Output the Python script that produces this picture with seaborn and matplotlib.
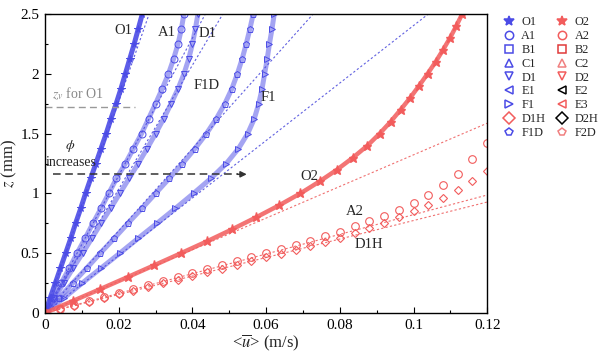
import numpy as np
import pandas as pd
import seaborn as sns
import matplotlib.pyplot as plt
from matplotlib.lines import Line2D
from matplotlib.ticker import MultipleLocator

# blue series, sampled at the same heights z (mm)
z_blue = [0, 0.125, 0.25, 0.375, 0.5, 0.625, 0.75, 0.875, 1.0, 1.125, 1.25,
          1.375, 1.5, 1.625, 1.75, 1.875, 2.0, 2.125, 2.25, 2.375, 2.5]
u_O1 = [0, .0014, .0028, .0042, .0056, .0070, .0083, .0097, .0110, .0124, .0138,
        .0152, .0166, .0179, .0193, .0206, .0218, .0230, .0242, .0253, .0264]
u_A1 = [0, .0022, .0044, .0066, .0087, .0109, .0130, .0152, .0173, .0194, .0218,
        .0240, .0262, .0281, .0300, .0318, .0335, .0349, .0361, .0370, .0377]
u_D1 = [0, .0025, .0051, .0076, .0102, .0127, .0152, .0178, .0203, .0228, .0253,
        .0277, .0300, .0322, .0342, .0361, .0377, .0390, .0400, .0408, .0415]
u_F1D = [0, .0038, .0075, .0113, .0150, .0188, .0225, .0263, .0300, .0337, .0373,
         .0407, .0438, .0465, .0488, .0507, .0522, .0535, .0546, .0556, .0565]
u_F1 = [0, .0051, .0101, .0152, .0203, .0253, .0304, .0354, .0403, .0450, .0492,
        .0525, .0550, .0568, .0580, .0589, .0596, .0603, .0609, .0616, .0622]

# red series
z_O2 = [0, 0.1, 0.2, 0.3, 0.4, 0.5, 0.6, 0.7, 0.8, 0.9, 1.0, 1.1, 1.2, 1.3,
        1.4, 1.5, 1.6, 1.7, 1.8, 1.9, 2.0, 2.1, 2.2, 2.3, 2.4, 2.5]
u_O2 = [0, .0075, .0150, .0224, .0297, .0369, .0440, .0508, .0573, .0635, .0693,
        .0745, .0793, .0836, .0875, .0908, .0938, .0965, .0991, .1015, .1038,
        .1060, .1080, .1099, .1116, .1132]
u_red = [0, .004, .008, .012, .016, .020, .024, .028, .032, .036, .040, .044,
         .048, .052, .056, .060, .064, .068, .072, .076, .080, .084, .088, .092,
         .096, .100, .104, .108, .112, .116, .120]
z_A2 = [0, .033, .067, .100, .133, .167, .200, .233, .267, .300, .333, .367,
        .400, .433, .467, .500, .533, .567, .602, .640, .680, .725, .770, .815,
        .865, .920, .990, 1.07, 1.16, 1.29, 1.42]
z_D1H = [0, .031, .062, .093, .124, .155, .186, .217, .248, .279, .310, .341,
         .372, .403, .434, .465, .496, .527, .560, .594, .630, .668, .710, .752,
         .800, .852, .905, .965, 1.03, 1.10, 1.19]

# slopes du/dz of the dashed tangent lines
tangent_blue = [0.0113, 0.0174, 0.0193, 0.0291, 0.0416]
tangent_red = [0.0756, 0.1216, 0.1293]

legend_labels = ["O1", "A1", "B1", "C1", "D1", "E1", "F1", "D1H", "F1D",
                 "O2", "A2", "B2", "C2", "D2", "E2", "E3", "D2H", "F2D"]
legend_markers = ["*", "o", "s", "^", "v", "<", ">", "D", "p",
                  "*", "o", "s", "^", "v", "<", "<", "D", "p"]
BLUE = "#4b4be6"
RED = "#f25c5c"
legend_colors = [BLUE, BLUE, BLUE, BLUE, BLUE, BLUE, BLUE, RED, BLUE,
                 RED, RED, "#e03a3a", "#f08080", RED, "black", RED, "black", "#f08080"]

sns.set_theme(style="ticks")
plt.rcParams['font.family'] = ['Liberation Serif', 'DejaVu Serif']
plt.rcParams['mathtext.fontset'] = 'stix'

fig = plt.figure(figsize=(6, 3.58), dpi=100)
ax = fig.add_axes([0.075, 0.1257, 0.737, 0.835])

# tangent lines first (behind the data)
for s in tangent_blue:
    ax.plot([0, 2.5 * s], [0, 2.5], color="#6060e0", lw=0.8, dashes=(2, 2))
for s in tangent_red:
    ax.plot([0, 0.12], [0, 0.12 / s], color="#f07070", lw=0.8, dashes=(2, 2))

blue_series = [(u_O1, "*", True), (u_A1, "o", False), (u_D1, "v", False),
               (u_F1D, "p", False), (u_F1, ">", False)]
for u, m, filled in blue_series:
    sns.lineplot(x=u, y=z_blue, sort=False, estimator=None, ax=ax,
                 color=BLUE, lw=3.6, alpha=0.5 if not filled else 0.9)
    ax.plot(u, z_blue, ls="none", marker=m, ms=5.5 if m == "*" else 5,
            color=BLUE, mfc=BLUE if filled else "none", mew=0.7)

sns.lineplot(x=u_O2, y=z_O2, sort=False, estimator=None, ax=ax,
             color=RED, lw=3.2, alpha=0.85)
ax.plot(u_O2, z_O2, ls="none", marker="*", ms=6.5, color=RED)
ax.plot(u_red, z_A2, ls="none", marker="o", ms=5.5, color=RED, mfc="none", mew=0.8)
ax.plot(u_red, z_D1H, ls="none", marker="D", ms=4.5, color=RED, mfc="none", mew=0.8)

# z_v for O1 and the "phi increases" arrow
ax.plot([0, 0.0244], [1.72, 1.72], color="#999999", lw=1, dashes=(5, 3))
ax.text(0.009, 1.80, r"$z_v$ for O1", color="#888888", fontsize=10, ha="center")
ax.plot([0.0022, 0.0525], [1.16, 1.16], color="#333333", lw=1.1, dashes=(5, 3))
ax.annotate("", xy=(0.0555, 1.16), xytext=(0.0515, 1.16),
            arrowprops=dict(arrowstyle="-|>", color="#333333", lw=1.1,
                            mutation_scale=9))
ax.text(0.0068, 1.37, r"$\phi$", fontsize=10, ha="center")
ax.text(0.0072, 1.23, "increases", fontsize=10, ha="center")

names = [("O1", 0.0212, 2.36), ("A1", 0.0331, 2.35), ("D1", 0.0442, 2.34),
         ("F1D", 0.0440, 1.90), ("F1", 0.0605, 1.80), ("O2", 0.0717, 1.14),
         ("A2", 0.0842, 0.85), ("D1H", 0.0880, 0.575)]
for t, x, y in names:
    ax.text(x, y, t, fontsize=10.5, ha="center", va="center")

ax.set_xlim(0, 0.12)
ax.set_ylim(0, 2.5)
ax.set_xticks([0, 0.02, 0.04, 0.06, 0.08, 0.1, 0.12])
ax.set_xticklabels(["0", "0.02", "0.04", "0.06", "0.08", "0.1", "0.12"])
ax.set_yticks([0, 0.5, 1, 1.5, 2, 2.5])
ax.set_yticklabels(["0", "0.5", "1", "1.5", "2", "2.5"])
ax.xaxis.set_minor_locator(MultipleLocator(0.01))
ax.yaxis.set_minor_locator(MultipleLocator(0.25))
ax.tick_params(which="both", direction="in", top=False, right=False,
               labelsize=11, colors="black", width=0.8)
ax.tick_params(which="major", length=4, pad=4)
ax.tick_params(which="minor", length=2)
for sp in ax.spines.values():
    sp.set_color("black")
    sp.set_linewidth(1)
ax.set_xlabel(r"<$\overline{u}$> (m/s)", fontsize=12, labelpad=1)
ax.set_ylabel(r"$z$ (mm)", fontsize=12, labelpad=1)

handles = [Line2D([], [], ls="none", marker=m, color=c,
                  mfc=c if m == "*" else "none", mew=1.1,
                  ms=7.5 if m == "*" else 6)
           for m, c in zip(legend_markers, legend_colors)]
fig.legend(handles, legend_labels, ncol=2, loc="upper left",
           bbox_to_anchor=(0.828, 0.975), frameon=False, fontsize=8.8,
           handlelength=0.8, handletextpad=0.6, columnspacing=1.0,
           labelspacing=0.15, borderaxespad=0.2)

fig.savefig("out.png", dpi=100)
